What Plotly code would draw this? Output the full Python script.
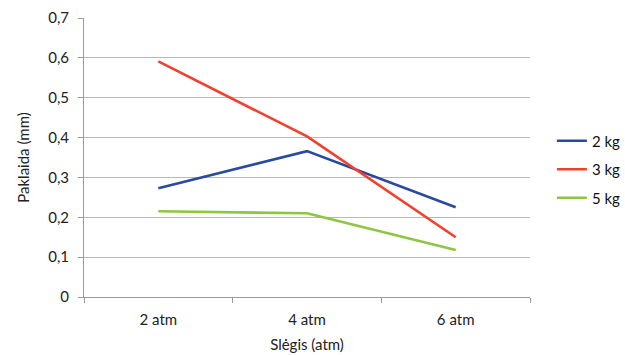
import plotly.graph_objects as go

# Pressure categories and measured error per load
pressures = ["2 atm", "4 atm", "6 atm"]
err_2kg = [0.273, 0.366, 0.225]
err_3kg = [0.591, 0.403, 0.150]
err_5kg = [0.215, 0.210, 0.118]

y_ticks = [0, 0.1, 0.2, 0.3, 0.4, 0.5, 0.6, 0.7]
y_tick_text = ["0", "0,1", "0,2", "0,3", "0,4", "0,5", "0,6", "0,7"]

series = [
    ("2 kg", err_2kg, "#2B4A9E"),
    ("3 kg", err_3kg, "#F2402F"),
    ("5 kg", err_5kg, "#8DC63F"),
]

font_family = "Lato, 'Open Sans', sans-serif"

fig = go.Figure()
for name, vals, color in series:
    fig.add_trace(go.Scatter(
        x=pressures, y=vals, name=name, mode="lines",
        legendgroup=name,
        line=dict(color=color, width=2.6),
    ))

fig.update_layout(
    width=625, height=355,
    margin=dict(l=84, r=95, t=18, b=58, autoexpand=False),
    paper_bgcolor="white", plot_bgcolor="white",
    font=dict(family=font_family, size=15, color="#222222"),
    showlegend=True,
    legend=dict(
        xref="container", x=0.883, y=0.457, xanchor="left", yanchor="middle",
        font=dict(size=15, color="#111111"),
        itemwidth=30, tracegroupgap=6,
        bgcolor="rgba(0,0,0,0)",
    ),
    xaxis=dict(
        type="category", range=[-0.5, 2.5],
        showline=True, linecolor="#9A9A9A", linewidth=1,
        ticks="outside", tickson="boundaries", ticklen=5, tickcolor="#9A9A9A",
        ticklabelstandoff=9,
        showgrid=False, zeroline=False,
        tickfont=dict(size=15),
        title=dict(text="Slėgis (atm)", font=dict(size=15), standoff=12),
    ),
    yaxis=dict(
        range=[0, 0.7],
        tickvals=y_ticks, ticktext=y_tick_text,
        showline=True, linecolor="#9A9A9A", linewidth=1,
        ticks="outside", ticklen=5, tickcolor="#9A9A9A",
        ticklabelstandoff=6,
        showgrid=True, gridcolor="#B8B8B8", gridwidth=1,
        zeroline=False,
        tickfont=dict(size=15),
        title=dict(text="Paklaida (mm)", font=dict(size=15), standoff=14),
    ),
)

fig.write_html("out.html")
